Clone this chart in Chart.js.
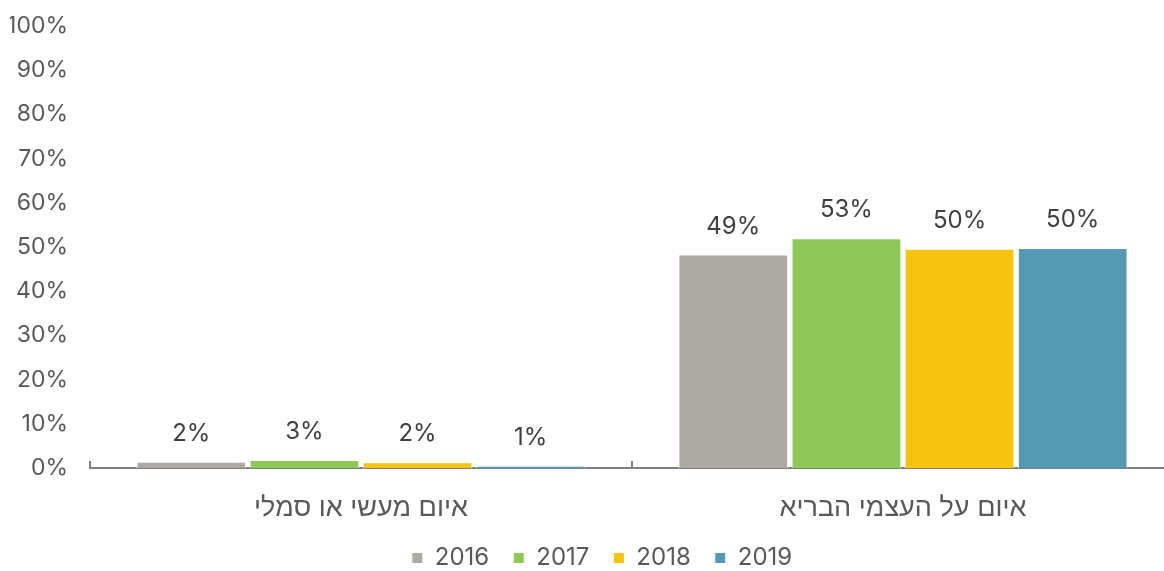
<!DOCTYPE html>
<html>
<head>
<meta charset="utf-8">
<script src="https://cdn.jsdelivr.net/npm/chart.js@4/dist/chart.umd.min.js"></script>
<style>
  html, body { margin: 0; padding: 0; background: #fff; overflow: hidden; }
  /* the original chart is cropped a little on the right and bottom */
  #wrap { width: 1164px; height: 571px; overflow: hidden; }
</style>
</head>
<body>
<div id="wrap"><canvas id="chart" width="1174" height="580"></canvas></div>
<script>
// categories (left to right as shown)
const categories = ['איום מעשי או סמלי', 'איום על העצמי הבריא']
const years = ['2016', '2017', '2018', '2019']

// bar heights (%)
const values2016 = [1.4, 48.3]
const values2017 = [1.8, 52.0]
const values2018 = [1.3, 49.6]
const values2019 = [0.5, 49.8]

// data labels printed above the bars
const labels2016 = ['2%', '49%']
const labels2017 = ['3%', '53%']
const labels2018 = ['2%', '50%']
const labels2019 = ['1%', '50%']

const colors = ['#ADA9A3', '#8FC856', '#F7C30E', '#559AB4']

const FONT = "Inter, 'Liberation Sans', sans-serif"

const seriesValues = [values2016, values2017, values2018, values2019]
const seriesLabels = [labels2016, labels2017, labels2018, labels2019]

// draws the value label above each bar
const barLabels = {
  id: 'barLabels',
  afterDatasetsDraw(chart) {
    const ctx = chart.ctx
    ctx.save()
    ctx.font = '24px ' + FONT
    ctx.fillStyle = '#404040'
    ctx.textAlign = 'center'
    ctx.textBaseline = 'middle'
    chart.data.datasets.forEach((ds, i) => {
      chart.getDatasetMeta(i).data.forEach((bar, j) => {
        ctx.fillText(ds.shownLabels[j], bar.x, bar.y - 28)
      })
    })
    ctx.restore()
  }
}

// the legend sits a bit right of centre in the original
const nudgeLegend = {
  id: 'nudgeLegend',
  afterLayout(chart) {
    chart.legend.left += 10
    chart.legend.right += 10
  }
}

new Chart(document.getElementById('chart'), {
  type: 'bar',
  data: {
    labels: categories,
    datasets: years.map((y, i) => ({
      label: y,
      data: seriesValues[i],
      shownLabels: seriesLabels[i],
      backgroundColor: colors[i],
      borderColor: '#ffffff',
      borderWidth: 1,
      barPercentage: 0.97,
      categoryPercentage: 0.835,
    })),
  },
  options: {
    responsive: false,
    animation: false,
    layout: { padding: { top: 0, left: 10, right: 0, bottom: 0 } },
    plugins: {
      legend: {
        position: 'bottom',
        labels: {
          font: { size: 24, family: FONT },
          color: '#595959',
          boxWidth: 11,
          boxHeight: 11,
          padding: 24,
        }
      },
      tooltip: { enabled: false },
    },
    scales: {
      x: {
        grid: {
          drawOnChartArea: false,
          drawTicks: true,
          tickLength: -7,
          color: '#7F7F7F',
          lineWidth: 2,
          offset: true,
        },
        border: { color: '#7F7F7F', width: 2 },
        ticks: {
          font: { size: 27, family: FONT },
          color: '#595959',
          padding: 31,
        },
        afterFit(scale) { scale.height = 54 },
      },
      y: {
        min: 0,
        max: 100,
        grid: { display: false, drawTicks: false },
        border: { display: false },
        ticks: {
          stepSize: 10,
          font: { size: 23, family: FONT, lineHeight: 0.35 },
          color: '#595959',
          padding: 22,
          callback: v => v + '%',
        },
        afterFit(scale) { scale.width = 80 },
      },
    },
  },
  plugins: [barLabels, nudgeLegend],
})
</script>
</body>
</html>
